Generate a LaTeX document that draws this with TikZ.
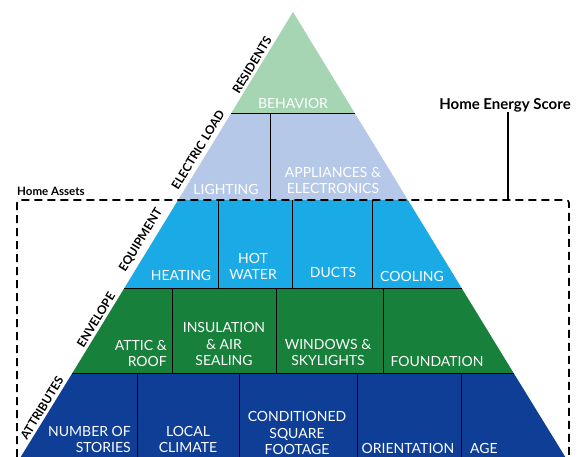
\documentclass[tikz,border=0pt]{standalone}
\usepackage{fontspec}
\setmainfont{Lato}
\definecolor{residents}{HTML}{A5D5B3}
\definecolor{electric}{HTML}{B6C8E8}
\definecolor{equipment}{HTML}{1AAAE6}
\definecolor{envelope}{HTML}{17803A}
\definecolor{attributes}{HTML}{0F3E97}
\tikzset{
  cell/.style={text=white, font=\fontsize{14}{16.5}\selectfont, align=center, anchor=south, inner sep=0pt},
  side/.style={font=\bfseries\fontsize{12}{13}\selectfont, rotate=58.5, inner sep=0pt},
  wall/.style={line width=0.9pt},
  assets/.style={line width=1.6pt, dash pattern=on 8pt off 5pt}
}
\begin{document}
\begin{tikzpicture}[x=1pt,y=-1pt]
\useasboundingbox (0,0) rectangle (585,456);
\clip (0,0) rectangle (585,456);
% layers of the pyramid
\fill[residents] (293,12) -- (354.7,113) -- (231.3,113) -- cycle;
\fill[electric] (231.3,113) -- (354.7,113) -- (407.9,200) -- (178.1,200) -- cycle;
\fill[equipment] (178.1,200) -- (407.9,200) -- (461.6,288) -- (124.4,288) -- cycle;
\fill[envelope] (124.4,288) -- (461.6,288) -- (513.6,373) -- (72.4,373) -- cycle;
\fill[attributes] (72.4,373) -- (513.6,373) -- (573.3,470) -- (12.7,470) -- cycle;
% cell walls
\draw[wall] (231.3,113) -- (354.7,113);
\draw[wall] (124.4,288) -- (461.6,288);
\draw[wall] (72.4,373) -- (513.6,373);
\draw[wall] (270,113) -- (270,200);
\draw[wall] (218,200) -- (218,288);
\draw[wall] (292,200) -- (292,288);
\draw[wall] (372,200) -- (372,288);
\draw[wall] (172,288) -- (172,373);
\draw[wall] (276,288) -- (276,373);
\draw[wall] (383,288) -- (383,373);
\draw[wall] (137,373) -- (137,470);
\draw[wall] (239,373) -- (239,470);
\draw[wall] (357,373) -- (357,470);
\draw[wall] (461,373) -- (461,470);

\node[cell] (behavior) at (293,109) {BEHAVIOR};
\node[cell] (lighting) at (226,195) {LIGHTING};
\node[cell] (appliances) at (333,194) {APPLIANCES \&\\ELECTRONICS};
\node[cell] (heating) at (181,281) {HEATING};
\node[cell] (hotwater) at (253,280) {HOT\\WATER};
\node[cell] (ducts) at (333,278) {DUCTS};
\node[cell] (cooling) at (412,282) {COOLING};
\node[cell, align=right, anchor=south east] (attic) at (167,367) {ATTIC \&\\ROOF};
\node[cell] (insulation) at (224,366) {INSULATION\\\& AIR\\SEALING};
\node[cell] (windows) at (328,366) {WINDOWS \&\\SKYLIGHTS};
\node[cell] (foundation) at (437,367) {FOUNDATION};
\node[cell, align=right, anchor=south east] (stories) at (131,453) {NUMBER OF\\STORIES};
\node[cell] (climate) at (188,453) {LOCAL\\CLIMATE};
\node[cell] (footage) at (297,455) {CONDITIONED\\SQUARE\\FOOTAGE};
\node[cell] (orientation) at (408,454) {ORIENTATION};
\node[cell] (age) at (484,454) {AGE};

% names along the left side
\node[side] (residents) at (252,65) {RESIDENTS};
\node[side] (load) at (198,150) {ELECTRIC LOAD};
\node[side] (equip) at (141,240) {EQUIPMENT};
\node[side] (envel) at (96,320) {ENVELOPE};
\node[side] (attrib) at (42,408) {ATTRIBUTES};

% home assets and score
\draw[assets, rounded corners=3pt] (17,470) -- (17,200) -- (569,200) -- (569,470);
\node[font=\bfseries\fontsize{11.5}{13}\selectfont, anchor=base west, inner sep=0pt] (assets) at (17,195) {Home Assets};
\node[font=\bfseries\fontsize{15}{17}\selectfont, anchor=base, inner sep=0pt] (score) at (505,109) {Home Energy Score};
\coordinate (scorefoot) at (508,200);
\draw[line width=1.2pt] (score.south -| scorefoot) -- (scorefoot);
\end{tikzpicture}
\end{document}
